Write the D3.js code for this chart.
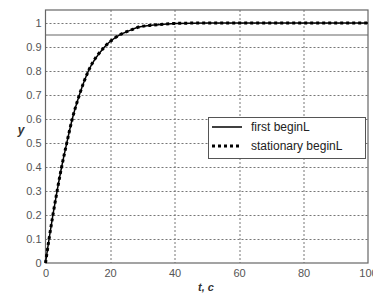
<!DOCTYPE html>
<html>
  <head>
    <meta charset="UTF-8" />
    <title>step response</title>
    <script src="https://cdn.jsdelivr.net/npm/d3@7/dist/d3.min.js"></script>
    <style>
      body { margin: 0; background: #fff; }
      .tick text { font: 11px Arial, "Liberation Sans", sans-serif; fill: #555; }
      .legend text { font: 12px Arial, "Liberation Sans", sans-serif; fill: #222; }
    </style>
  </head>
  <body>
    <div class="chart"></div>
    <script>
      // values
      let timeFirst = [0, 1.1, 2.3, 3.6, 5.0, 6.6, 8.3, 10.5, 13.3, 18.3, 23, 26, 29, 35, 40, 50, 70, 100];
      let yFirst = [0, 0.1, 0.2, 0.3, 0.4, 0.5, 0.6, 0.7, 0.8, 0.9, 0.95, 0.968, 0.983, 0.993, 0.998, 1.0, 1.0, 1.0];
      let timeStat = [0, 1.1, 2.3, 3.6, 5.0, 6.6, 8.3, 10.5, 13.3, 18.3, 23, 26, 29, 35, 40, 50, 70, 100];
      let yStat = [0, 0.1, 0.2, 0.3, 0.4, 0.5, 0.6, 0.7, 0.8, 0.9, 0.95, 0.968, 0.983, 0.993, 0.998, 1.0, 1.0, 1.0];
      let level = 0.95;
      let xTicks = [0, 20, 40, 60, 80, 100];
      let yTicks = [0, 0.1, 0.2, 0.3, 0.4, 0.5, 0.6, 0.7, 0.8, 0.9, 1];
      let legendNames = ["first beginL", "stationary beginL"];

      let width = 373;
      let height = 293;
      let margin = { top: 10, right: 5, bottom: 30, left: 45.5 };
      let w = width - margin.left - margin.right;
      let h = height - margin.top - margin.bottom;

      let svg = d3
        .select(".chart")
        .append("svg")
        .attr("width", width)
        .attr("height", height);

      let g = svg
        .append("g")
        .attr("transform", `translate(${margin.left},${margin.top})`);

      let x = d3.scaleLinear().domain([0, 100]).range([0, w]);
      let y = d3.scaleLinear().domain([0, 1.054]).range([h, 0]);

      // grid
      g.append("g")
        .selectAll("line")
        .data(yTicks.filter((d) => d > 0))
        .enter()
        .append("line")
        .attr("x1", 0)
        .attr("x2", w)
        .attr("y1", (d) => Math.round(y(d)) + 0.5)
        .attr("y2", (d) => Math.round(y(d)) + 0.5)
        .attr("stroke", "#777")
        .attr("stroke-dasharray", "2,2");

      g.append("g")
        .selectAll("line")
        .data(xTicks.filter((d) => d > 0 && d < 100))
        .enter()
        .append("line")
        .attr("x1", (d) => Math.round(x(d)) + 0.5)
        .attr("x2", (d) => Math.round(x(d)) + 0.5)
        .attr("y1", 0)
        .attr("y2", h)
        .attr("stroke", "#777")
        .attr("stroke-dasharray", "2,2");

      // 0.95 level
      g.append("line")
        .attr("x1", 0)
        .attr("x2", w)
        .attr("y1", y(level))
        .attr("y2", y(level))
        .attr("stroke", "#999")
        .attr("stroke-width", 1.5);

      // axes
      let xAxis = g
        .append("g")
        .attr("transform", `translate(0,${h})`)
        .call(d3.axisBottom(x).tickValues(xTicks).tickSize(0).tickPadding(6));
      xAxis.select(".domain").remove();

      let yAxis = g
        .append("g")
        .call(
          d3.axisLeft(y).tickValues(yTicks).tickSize(0).tickPadding(4).tickFormat(d3.format("~g"))
        );
      yAxis.select(".domain").remove();

      // frame
      g.append("rect")
        .attr("x", 0)
        .attr("y", 0)
        .attr("width", w)
        .attr("height", h)
        .attr("fill", "none")
        .attr("stroke", "#666")
        .attr("stroke-width", 1.2);

      // curves
      let line = d3
        .line()
        .x((d) => x(d[0]))
        .y((d) => y(d[1]))
        .curve(d3.curveMonotoneX);

      g.append("path")
        .datum(d3.zip(timeFirst, yFirst))
        .attr("fill", "none")
        .attr("stroke", "#000")
        .attr("stroke-width", 1.5)
        .attr("d", line);

      g.append("path")
        .datum(d3.zip(timeStat, yStat))
        .attr("fill", "none")
        .attr("stroke", "#000")
        .attr("stroke-width", 3)
        .attr("stroke-dasharray", "3,3")
        .attr("d", line);

      // axis labels
      svg.append("text")
        .attr("x", 206)
        .attr("y", 291)
        .attr("text-anchor", "middle")
        .style("font", "italic bold 11px Arial, 'Liberation Sans', sans-serif")
        .attr("fill", "#333")
        .text("t, c");

      svg.append("text")
        .attr("x", 21)
        .attr("y", 134)
        .attr("text-anchor", "middle")
        .style("font", "italic bold 12px Arial, 'Liberation Sans', sans-serif")
        .attr("fill", "#333")
        .text("y");

      // legend
      let legend = svg.append("g").attr("class", "legend");
      legend
        .append("rect")
        .attr("x", 208.5)
        .attr("y", 117.5)
        .attr("width", 157)
        .attr("height", 41)
        .attr("fill", "#fff")
        .attr("stroke", "#555");

      legendNames.forEach((name, i) => {
        let ly = 127 + i * 19;
        legend
          .append("line")
          .attr("x1", 212)
          .attr("x2", 242)
          .attr("y1", ly)
          .attr("y2", ly)
          .attr("stroke", "#000")
          .attr("stroke-width", i === 0 ? 1.5 : 3)
          .attr("stroke-dasharray", i === 0 ? null : "3,3");
        legend
          .append("text")
          .attr("x", 251)
          .attr("y", ly + 4)
          .text(name);
      });
    </script>
  </body>
</html>
